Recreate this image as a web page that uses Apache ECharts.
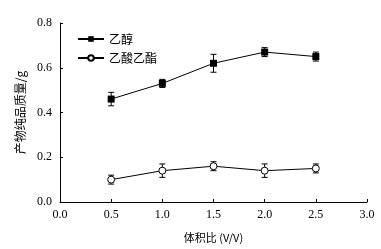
<!DOCTYPE html>
<html>
<head>
    <meta charset="utf-8">
    <script src="https://cdn.jsdelivr.net/npm/echarts@6/dist/echarts.min.js"></script>
    <style>
        html, body { margin: 0; padding: 0; background: #fff; }
        #main { width: 381px; height: 249px; }
    </style>
</head>
<body>
<div id="main"></div>
<script>
var ratios = [0.5, 1.0, 1.5, 2.0, 2.5];
var ethanol = [0.46, 0.53, 0.62, 0.67, 0.65];
var ethanolErr = [0.03, 0.018, 0.04, 0.02, 0.02];
var ester = [0.10, 0.14, 0.16, 0.14, 0.15];
var esterErr = [0.02, 0.03, 0.02, 0.03, 0.02];
var names = ['乙醇', '乙酸乙酯'];

var numFont = '"Liberation Serif", "DejaVu Serif", serif';
var cjkFont = '"Noto Sans CJK SC", sans-serif';

function pairs(ys) {
    return ratios.map(function (x, i) { return [x, ys[i]]; });
}
function errData(ys, es) {
    return ratios.map(function (x, i) { return [x, ys[i] - es[i], ys[i] + es[i]]; });
}
function errBar(params, api) {
    var lo = api.coord([api.value(0), api.value(1)]);
    var hi = api.coord([api.value(0), api.value(2)]);
    var w = 3;
    var st = { stroke: '#000', lineWidth: 1 };
    return {
        type: 'group',
        children: [
            { type: 'line', shape: { x1: lo[0], y1: lo[1], x2: hi[0], y2: hi[1] }, style: st },
            { type: 'line', shape: { x1: lo[0] - w, y1: lo[1], x2: lo[0] + w, y2: lo[1] }, style: st },
            { type: 'line', shape: { x1: hi[0] - w, y1: hi[1], x2: hi[0] + w, y2: hi[1] }, style: st }
        ]
    };
}

var chart = echarts.init(document.getElementById('main'));
chart.setOption({
    animation: false,
    backgroundColor: '#fff',
    grid: { left: 60, right: 14, top: 23, bottom: 47 },
    legend: {
        orient: 'vertical',
        left: 72,
        top: 28,
        itemWidth: 26,
        itemHeight: 7,
        itemGap: 7,
        data: names,
        textStyle: { fontFamily: cjkFont, fontSize: 12, color: '#000' }
    },
    xAxis: {
        type: 'value',
        min: 0,
        max: 3,
        interval: 0.5,
        name: '体积比 (V/V)',
        nameLocation: 'middle',
        nameGap: 30,
        nameTextStyle: { fontFamily: cjkFont, fontSize: 11, color: '#000' },
        axisLine: { lineStyle: { color: '#000', width: 1 } },
        axisTick: { inside: true, length: 3, lineStyle: { color: '#000' } },
        axisLabel: {
            fontFamily: numFont, fontSize: 12, color: '#000', margin: 7,
            formatter: function (v) { return v.toFixed(1); }
        },
        splitLine: { show: false }
    },
    yAxis: {
        type: 'value',
        min: 0,
        max: 0.8,
        interval: 0.2,
        name: '产物纯品质量/g',
        nameLocation: 'middle',
        nameGap: 30,
        nameTextStyle: { fontFamily: cjkFont, fontSize: 12, color: '#000' },
        axisLine: { show: true, lineStyle: { color: '#000', width: 1 } },
        axisTick: { show: true, inside: true, length: 3, lineStyle: { color: '#000' } },
        axisLabel: {
            fontFamily: numFont, fontSize: 12, color: '#000', margin: 8,
            formatter: function (v) { return v.toFixed(1); }
        },
        splitLine: { show: false }
    },
    series: [
        {
            name: names[0],
            type: 'line',
            data: pairs(ethanol),
            symbol: 'rect',
            symbolSize: 7,
            itemStyle: { color: '#000' },
            lineStyle: { color: '#000', width: 1 },
            z: 3
        },
        {
            name: names[1],
            type: 'line',
            data: pairs(ester),
            symbol: 'circle',
            symbolSize: 7,
            itemStyle: { color: '#fff', borderColor: '#000', borderWidth: 1 },
            lineStyle: { color: '#000', width: 1 },
            z: 3
        },
        {
            type: 'custom',
            renderItem: errBar,
            data: errData(ethanol, ethanolErr),
            z: 2
        },
        {
            type: 'custom',
            renderItem: errBar,
            data: errData(ester, esterErr),
            z: 2
        }
    ]
});
</script>
</body>
</html>
